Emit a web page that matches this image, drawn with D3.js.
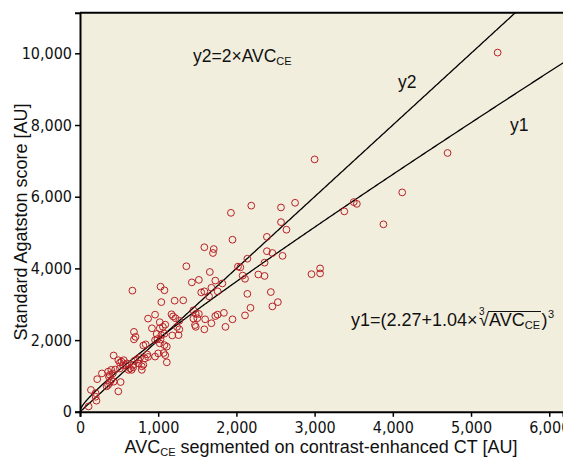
<!DOCTYPE html>
<html>
<head>
<meta charset="utf-8">
<script src="https://cdn.jsdelivr.net/npm/d3@7"></script>
<style>
  html, body { margin: 0; padding: 0; background: #ffffff; }
  svg { display: block; }
  .tick text { font-family: "Liberation Sans Narrow", "DejaVu Sans Condensed", "Roboto Condensed", sans-serif; font-size: 16px; fill: #111; }
  .lbl { font-family: "Liberation Sans", Arial, sans-serif; fill: #111; }
</style>
</head>
<body>
<svg id="chart" width="563" height="458"></svg>
<script>
// ---- data ----
const avcCE = [5340,4700,4120,3000,3500,3540,3380,3880,3070,2960,3070,
  1930,2190,2570,2750,2570,2640,1950,2390,1590,1710,1700,2390,2460,2590,2140,2360,1360,2020,2050,
  1660,2080,2110,2280,2360,1520,1430,1730,1820,1680,1550,1590,1760,1650,2140,2440,1320,2460,2530,
  2180,2110,1840,1730,1450,1480,1520,1450,1500,1600,1680,1950,1470,1480,1860,1590,1760,
  670,1030,1080,1040,1210,960,870,1170,1190,1270,1220,1020,1090,1060,1020,920,690,710,690,
  980,1080,1180,1260,1270,1240,1040,960,990,1030,810,840,1020,1080,1110,1070,1090,1000,960,1110,
  860,870,830,810,740,700,750,790,660,680,640,620,600,530,510,430,490,560,510,580,550,
  280,360,400,450,380,420,400,380,360,340,430,520,490,220,140,200,200,210,110,370,770,680,790];
const agatston = [10020,7220,6120,7040,5850,5800,5590,5230,4000,3840,3860,
  5550,5750,5700,5830,5290,5080,4800,4880,4590,4540,4430,4480,4430,4350,4270,4160,4060,4050,4030,
  3900,3800,3710,3830,3790,3680,3610,3660,3580,3460,3330,3360,3360,3220,3290,3340,3110,2940,3060,
  2900,2690,2760,2670,2830,2730,2730,2600,2610,2580,2470,2580,2420,2370,2370,2300,2710,
  3380,3490,3390,3060,3100,2710,2600,2720,2660,2540,2610,2500,2430,2370,2330,2330,2230,2090,2020,
  2170,2180,2130,2140,2300,2370,2140,2000,2030,2020,1850,1880,1910,1860,1820,1640,1580,1630,1540,1380,
  1600,1530,1490,1310,1460,1430,1350,1170,1170,1240,1210,1170,1350,1400,1210,1570,1440,1440,1370,1310,1290,
  1070,1120,1170,1180,1030,1070,890,810,750,710,840,830,570,910,610,520,420,310,150,980,1520,1310,1270];
const xTicks = [0,1000,2000,3000,4000,5000,6000];
const yTicks = [0,2000,4000,6000,8000,10000];
const y1Coef = [2.27, 1.04];   // y1 = (a + b * cbrt(x))^3
const y2Slope = 2;             // y2 = 2 * x
const xTitle = ["AVC", "CE", " segmented on contrast-enhanced CT [AU]"];
const yTitle = "Standard Agatston score [AU]";

// ---- layout ----
const svg = d3.select("#chart");
const L = 80, T = 12.7, R = 563, B = 411.8;
const x = d3.scaleLinear().domain([0, 6176]).range([L, R]);
const y = d3.scaleLinear().domain([0, 11133]).range([B, T]);

svg.append("rect").attr("x", L).attr("y", T).attr("width", R - L).attr("height", B - T)
  .attr("fill", "#f2eedd");

// top border
svg.append("line").attr("x1", L).attr("x2", R).attr("y1", T).attr("y2", T)
  .attr("stroke", "#000").attr("stroke-width", 2);

const fmt = d3.format(",");
const xAxis = svg.append("g").attr("transform", `translate(0,${B})`)
  .call(d3.axisBottom(x).tickValues(xTicks).tickFormat(fmt).tickSize(5).tickPadding(3));
const yAxis = svg.append("g").attr("transform", `translate(${L},0)`)
  .call(d3.axisLeft(y).tickValues(yTicks).tickFormat(fmt).tickSize(5).tickPadding(3));
[xAxis, yAxis].forEach(g => {
  g.select(".domain").attr("stroke", "#000").attr("stroke-width", 2);
  g.selectAll(".tick line").attr("stroke", "#000").attr("stroke-width", 1.5);
});
xAxis.selectAll(".tick text").attr("dy", "0.85em");

// clip for lines
svg.append("clipPath").attr("id", "clip").append("rect")
  .attr("x", L).attr("y", T).attr("width", R - L).attr("height", B - T);

const xs = d3.range(0, 6200, 10);
const line = d3.line().x(d => x(d[0])).y(d => y(d[1]));
svg.append("path").attr("clip-path", "url(#clip)")
  .attr("d", line(xs.map(v => [v, y2Slope * v])))
  .attr("fill", "none").attr("stroke", "#000").attr("stroke-width", 1.3);
svg.append("path").attr("clip-path", "url(#clip)")
  .attr("d", line(xs.map(v => [v, Math.pow(y1Coef[0] + y1Coef[1] * Math.cbrt(v), 3)])))
  .attr("fill", "none").attr("stroke", "#000").attr("stroke-width", 1.3);

// points
svg.append("g").selectAll("circle").data(avcCE.map((v, i) => [v, agatston[i]]))
  .join("circle")
  .attr("cx", d => x(d[0])).attr("cy", d => y(d[1])).attr("r", 3.4)
  .attr("fill", "none").attr("stroke", "#b82025").attr("stroke-width", 1);

// axis titles
const xt = svg.append("text").attr("class", "lbl").attr("x", 321).attr("y", 452.5)
  .attr("text-anchor", "middle").attr("font-size", 18);
xt.append("tspan").text(xTitle[0]);
xt.append("tspan").text(xTitle[1]).attr("font-size", 11).attr("dy", 3);
xt.append("tspan").text(xTitle[2]).attr("dy", -3);

svg.append("text").attr("class", "lbl").attr("transform", "translate(27,222) rotate(-90)")
  .attr("text-anchor", "middle").attr("font-size", 18).text(yTitle);

// annotations
const a2 = svg.append("text").attr("class", "lbl").attr("x", 193).attr("y", 62).attr("font-size", 17.5);
a2.append("tspan").text("y2=2×AVC");
a2.append("tspan").text("CE").attr("font-size", 11).attr("dy", 3);

svg.append("text").attr("class", "lbl").attr("x", 398).attr("y", 88).attr("font-size", 17.5).text("y2");
svg.append("text").attr("class", "lbl").attr("x", 510).attr("y", 131).attr("font-size", 17.5).text("y1");

// y1 formula, laid out piece by piece
const bx = 351, by = 326;
let cx = bx;
function piece(str, size, dy, gapAfter) {
  const t = svg.append("text").attr("class", "lbl").attr("x", cx).attr("y", by + dy)
    .attr("font-size", size).text(str);
  const w = t.node().getComputedTextLength();
  const startX = cx;
  cx += w + (gapAfter || 0);
  return { t, startX, endX: startX + w };
}
piece("y1=(2.27+1.04×", 18, 0, 1.5);
const idx = piece("3", 10, -11, 0);
cx = idx.startX;
const radical = piece("√", 18, 0, 0);
const avc = piece("AVC", 18, 0, 0);
const sub = piece("CE", 11, 3, 1.5);
svg.append("line").attr("x1", radical.endX - 1).attr("x2", sub.endX + 1)
  .attr("y1", by - 14.5).attr("y2", by - 14.5).attr("stroke", "#111").attr("stroke-width", 1.1);
piece(")", 18, 0, 0.5);
piece("3", 11, -8, 0);
</script>
</body>
</html>
